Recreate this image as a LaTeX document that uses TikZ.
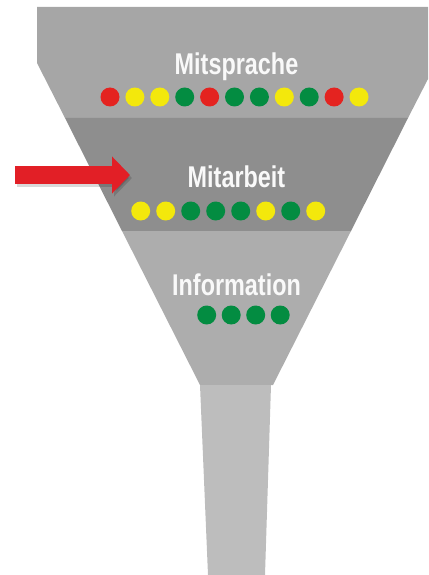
\documentclass[tikz,border=0pt]{standalone}
\usepackage{fontspec}
\setmainfont{Liberation Sans}
\newfontfamily\funnelfont[FakeStretch=0.78]{Liberation Sans}
\usepackage{xcolor}
\usepackage{tikz}
\usetikzlibrary{arrows.meta}

\definecolor{bandtop}{HTML}{A6A6A6}
\definecolor{bandmid}{HTML}{8E8E8E}
\definecolor{bandlow}{HTML}{ADADAD}
\definecolor{spout}{HTML}{BDBDBD}
\definecolor{dotred}{HTML}{E42320}
\definecolor{dotyellow}{HTML}{F3E80C}
\definecolor{dotgreen}{HTML}{038C41}
\definecolor{arrowred}{HTML}{E21F26}

\begin{document}
\begin{tikzpicture}[x=1pt,y=-1pt,
  every node/.style={font=\funnelfont\bfseries\fontsize{30}{30}\selectfont,
    text=white!95!gray,inner sep=0pt,anchor=base},
  redarrow/.style={line width=18pt,arrowred,-{Triangle[length=18pt,width=36pt]}}]
  \useasboundingbox (0,0) rectangle (428,575);
  % funnel bands
  \fill[bandtop] (37,7) -- (428,7) -- (428,79) -- (408,118) -- (65,118) -- (37,63) -- cycle;
  \fill[bandmid] (65,118) -- (408,118) -- (351,231) -- (122,231) -- cycle;
  \fill[bandlow] (122,231) -- (351,231) -- (273,385) -- (200,385) -- cycle;
  % spout
  \fill[spout] (200,385) -- (271,385) -- (265,575) -- (208,575) -- cycle;
  % labels
  \node (mitsprache) at (236.5,75) {Mitsprache};
  \node (mitarbeit) at (236.5,187) {Mitarbeit};
  \node (information) at (236.5,295) {Information};
  % dots
  \foreach \c [count=\i from 0] in {dotred,dotyellow,dotyellow,dotgreen,dotred,dotgreen,
                                    dotgreen,dotyellow,dotgreen,dotred,dotyellow}
    \fill[\c] (110+\i*24.9,97) circle (9.5);
  \foreach \c [count=\i from 0] in {dotyellow,dotyellow,dotgreen,dotgreen,dotgreen,
                                    dotyellow,dotgreen,dotyellow}
    \fill[\c] (140.7+\i*25,211) circle (9.5);
  \foreach \i in {0,...,3}
    \fill[dotgreen] (206.7+\i*24.5,315) circle (9.5);
  % arrow
  \coordinate (arrowtail) at (15,175);
  \coordinate (arrowtip) at (130,175);
  \draw[redarrow,black,opacity=0.15] ([shift={(2,3)}]arrowtail) -- ([shift={(2,3)}]arrowtip);
  \draw[redarrow] (arrowtail) -- (arrowtip);
\end{tikzpicture}
\end{document}
